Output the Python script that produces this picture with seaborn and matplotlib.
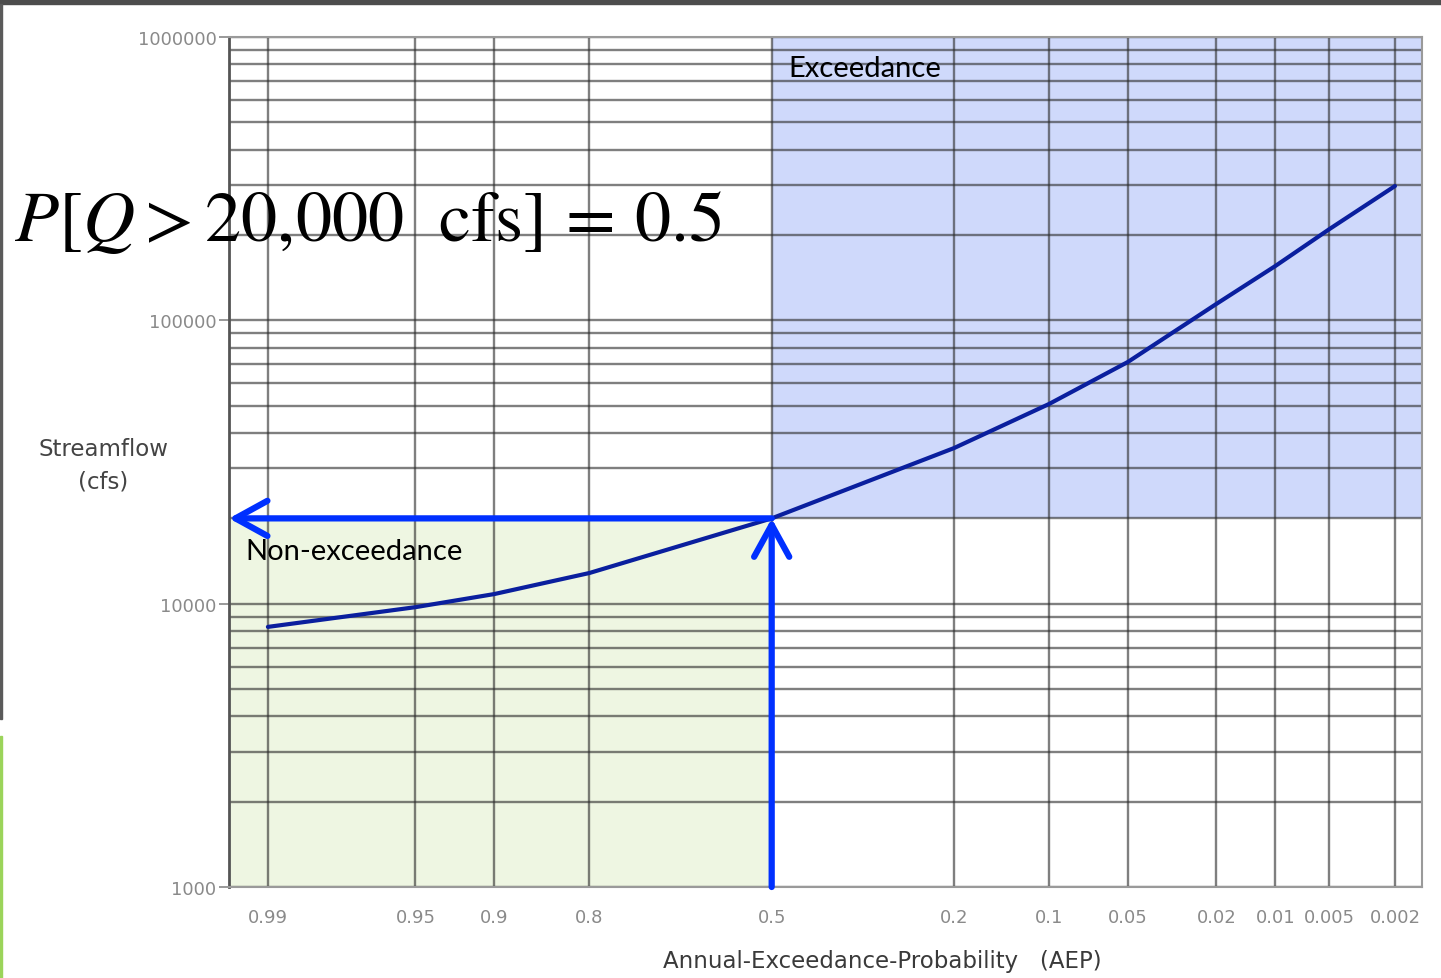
import numpy as np
import pandas as pd
import seaborn as sns
import matplotlib.pyplot as plt
from matplotlib.patches import Rectangle
from matplotlib.ticker import FixedLocator, FixedFormatter, LogLocator, NullFormatter, NullLocator
from statistics import NormalDist

# frequency curve
aep = [0.99, 0.95, 0.9, 0.8, 0.5, 0.2, 0.1, 0.05, 0.02, 0.01, 0.005, 0.002]
flow = [8280, 9720, 10810, 12830, 20000, 35400, 50700, 71300, 114300, 155600, 210000, 297800]

# axis ticks
x_ticks = [0.99, 0.95, 0.9, 0.8, 0.5, 0.2, 0.1, 0.05, 0.02, 0.01, 0.005, 0.002]
x_labels = ['0.99', '0.95', '0.9', '0.8', '0.5', '0.2', '0.1', '0.05', '0.02', '0.01', '0.005', '0.002']
y_ticks = [1000, 10000, 100000, 1000000]
y_labels = ['1000', '10000', '100000', '1000000']

# threshold used in the example
q_thr = 20000
p_thr = 0.5

df = pd.DataFrame({'aep': aep, 'flow': flow})

# normal probability scale
_nd = NormalDist()
_ppf = np.vectorize(_nd.inv_cdf, otypes=[float])
_cdf = np.vectorize(_nd.cdf, otypes=[float])

def fwd(p):
    p = np.clip(np.asarray(p, dtype=float), 1e-9, 1 - 1e-9)
    return _ppf(p)

def inv(z):
    return _cdf(np.asarray(z, dtype=float))

sns.set_style('white')
plt.rcParams['mathtext.fontset'] = 'stix'

fig = plt.figure(figsize=(14.41, 9.79), dpi=100)
ax = fig.add_axes([229 / 1441, 1 - 888 / 979, (1422 - 229) / 1441, (888 - 38) / 979])

ax.set_xscale('function', functions=(fwd, inv))
ax.set_yscale('log')
x_left = _nd.cdf(2.506)
x_right = _nd.cdf(-3.003)
ax.set_xlim(x_left, x_right)
ax.set_ylim(1000, 1000000)

# shaded regions
ax.fill_between([x_left, p_thr], 1000, q_thr, color='#eef6e2', zorder=0, lw=0)
ax.fill_between([p_thr, x_right], q_thr, 1000000, color='#cfd9fb', zorder=0, lw=0)

# grid
ax.xaxis.set_major_locator(FixedLocator(x_ticks))
ax.xaxis.set_major_formatter(FixedFormatter(x_labels))
ax.xaxis.set_minor_locator(NullLocator())
ax.yaxis.set_major_locator(FixedLocator(y_ticks))
ax.yaxis.set_major_formatter(FixedFormatter(y_labels))
ax.yaxis.set_minor_locator(LogLocator(base=10, subs=np.arange(2, 10)))
ax.yaxis.set_minor_formatter(NullFormatter())
ax.grid(True, which='both', color='#2a2a2a', alpha=0.6, lw=1.7, zorder=1)
ax.set_axisbelow(True)

sns.lineplot(data=df, x='aep', y='flow', ax=ax, color='#0a1f9e', lw=3.0, zorder=3)
for ln in ax.lines:
    ln.set_solid_joinstyle('round')
    ln.set_solid_capstyle('round')

# arrows
arrow_kw = dict(arrowstyle='->,head_length=1.0,head_width=0.55', color='#0030ff', lw=4.5,
                shrinkA=0, shrinkB=0, mutation_scale=23, capstyle='round')
ax.annotate('', xy=(x_left, q_thr), xytext=(p_thr, q_thr), arrowprops=arrow_kw, zorder=5,
            annotation_clip=False)
ax.annotate('', xy=(p_thr, q_thr), xytext=(p_thr, 1000), arrowprops=arrow_kw, zorder=5,
            annotation_clip=False)

ax.text(0.469, 0.964, 'Exceedance', transform=ax.transAxes, fontsize=21, family='Lato',
        ha='left', va='center', color='black', zorder=6)
ax.text(0.0134, 0.395, 'Non-exceedance', transform=ax.transAxes, fontsize=21, family='Lato',
        ha='left', va='center', color='black', zorder=6)

for s in ax.spines.values():
    s.set_color('#9a9a9a')
    s.set_linewidth(1.5)
ax.spines['left'].set_color('#555555')
ax.spines['left'].set_linewidth(2)

ax.tick_params(axis='y', which='major', length=7, width=1.2, color='#888888', labelsize=13,
               labelcolor='#8a8a8a', pad=2, left=True)
ax.tick_params(axis='y', which='minor', length=0)
ax.tick_params(axis='x', which='major', length=0, labelsize=13, labelcolor='#8a8a8a', pad=15)
ax.set_xlabel('')
ax.set_ylabel('')

fig.text(103 / 1441, 1 - 466 / 979, 'Streamflow\n(cfs)', ha='center', va='center',
         fontsize=16.5, color='#444444', linespacing=1.5)
fig.text(882 / 1441, 1 - 962 / 979, 'Annual-Exceedance-Probability   (AEP)', ha='center',
         va='center', fontsize=16.5, color='#3a3a3a')

fig.text(14 / 1441, 1 - 222 / 979, r'$P[Q > 20{,}000\ \ \mathrm{cfs}]\,=\,0.5$', ha='left',
         va='center', fontsize=52, color='black', zorder=10)

# slide frame remnants
fig.patches.append(Rectangle((0, 1 - 5 / 979), 1, 5 / 979, transform=fig.transFigure,
                             color='#4d4d4d', zorder=0))
fig.patches.append(Rectangle((0, 1 - 720 / 979), 2 / 1441, 715 / 979, transform=fig.transFigure,
                             color='#5a5a5a', zorder=0))
fig.patches.append(Rectangle((0, 0), 2 / 1441, 242 / 979, transform=fig.transFigure,
                             color='#9bd45a', zorder=0))

fig.savefig('out.png', dpi=100)
